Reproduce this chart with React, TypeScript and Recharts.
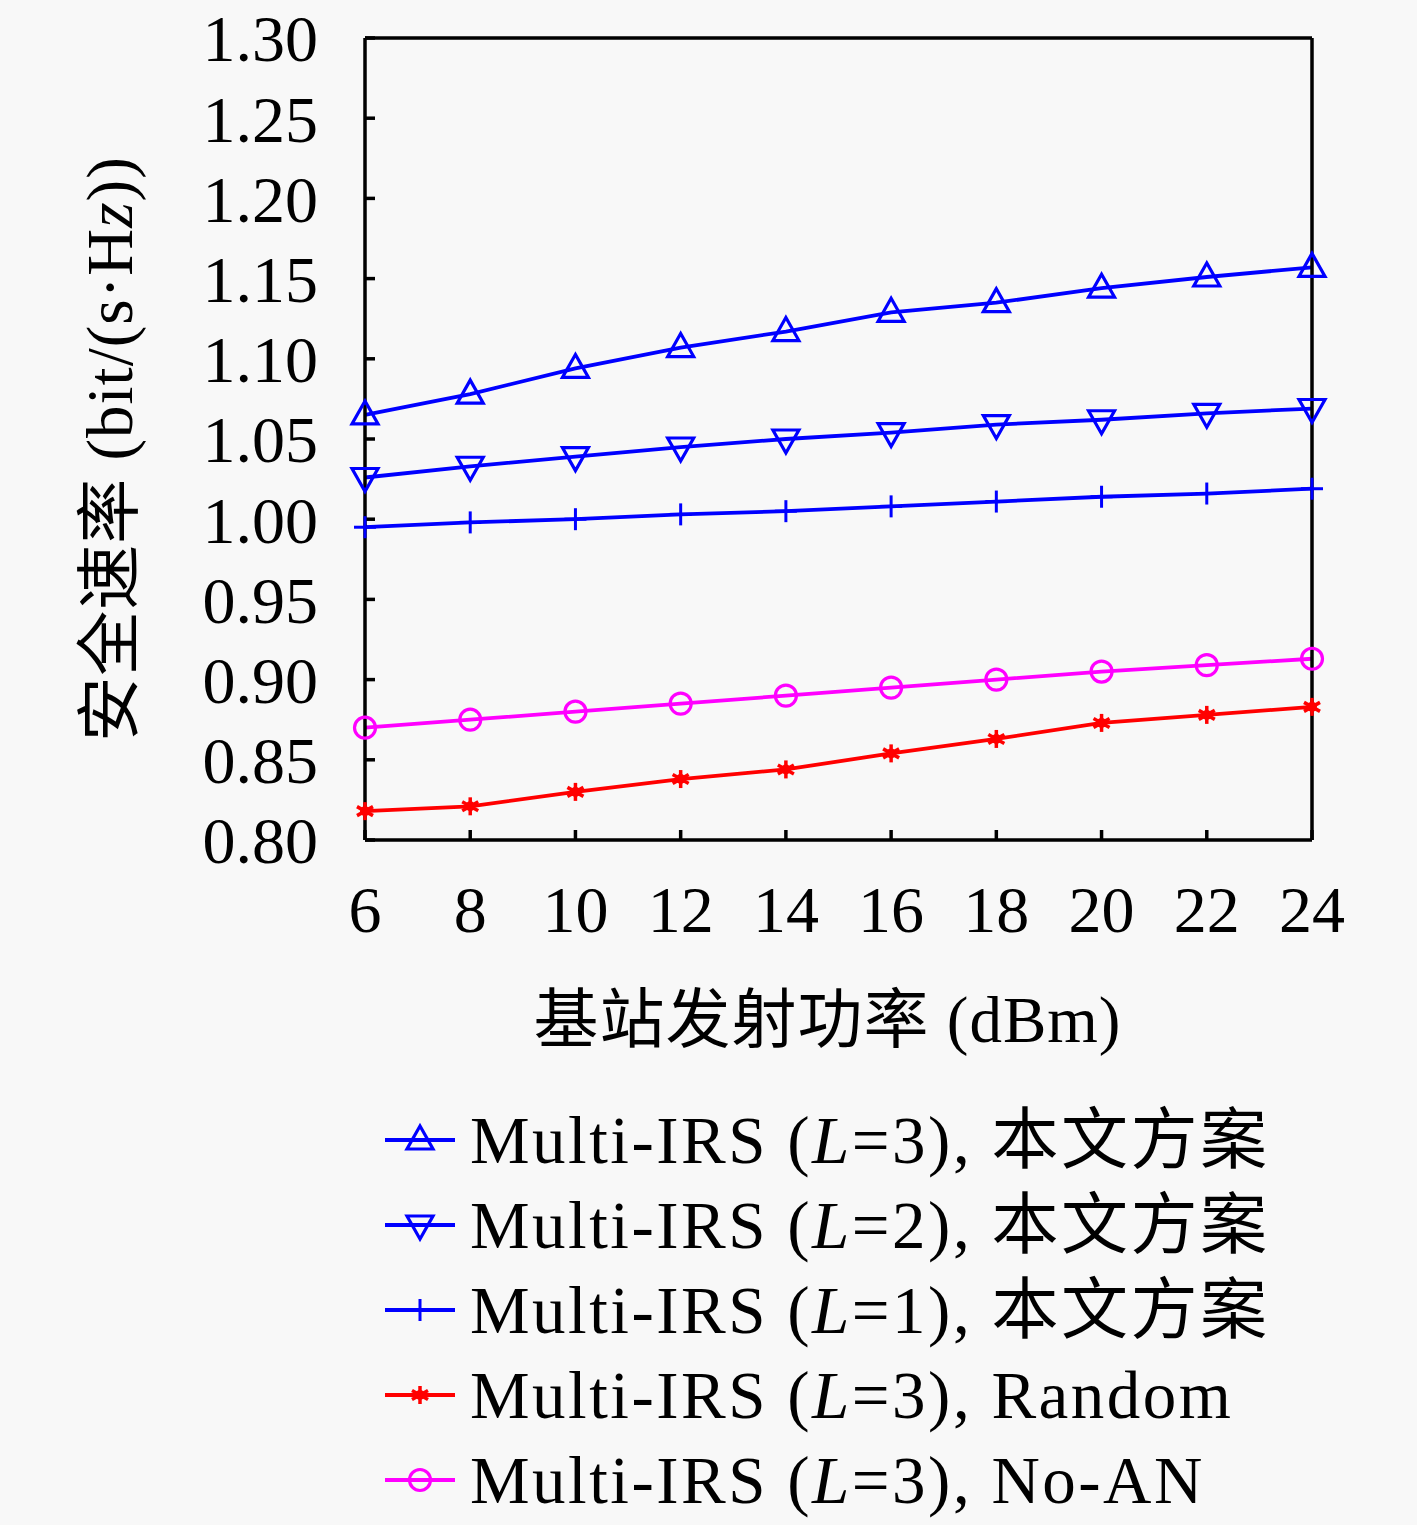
import React from "react";
import { LineChart, Line, XAxis, YAxis, Legend } from "recharts";

const powerDbm = [6, 8, 10, 12, 14, 16, 18, 20, 22, 24];
const l3Proposed = [1.065, 1.078, 1.094, 1.107, 1.117, 1.129, 1.135, 1.144, 1.151, 1.157];
const l2Proposed = [1.026, 1.033, 1.039, 1.045, 1.05, 1.054, 1.059, 1.062, 1.066, 1.069];
const l1Proposed = [0.995, 0.998, 1.0, 1.003, 1.005, 1.008, 1.011, 1.014, 1.016, 1.019];
const l3Random = [0.818, 0.821, 0.83, 0.838, 0.844, 0.854, 0.863, 0.873, 0.878, 0.883];
const l3NoAN = [0.87, 0.875, 0.88, 0.885, 0.89, 0.895, 0.9, 0.905, 0.909, 0.913];

const xTicks = [6, 8, 10, 12, 14, 16, 18, 20, 22, 24];
const yTicks = [0.8, 0.85, 0.9, 0.95, 1.0, 1.05, 1.1, 1.15, 1.2, 1.25, 1.3];

const data = powerDbm.map((p, i) => ({
  p,
  a: l3Proposed[i],
  b: l2Proposed[i],
  c: l1Proposed[i],
  d: l3Random[i],
  e: l3NoAN[i],
}));

const FONT = "'Liberation Serif', 'DejaVu Serif', 'Noto Sans CJK SC', serif";
const BLUE = "#0000ff";
const RED = "#ff0000";
const MAGENTA = "#ff00ff";

type MK = "up" | "down" | "plus" | "star" | "circle";

function markerShape(kind: MK, cx: number, cy: number, color: string) {
  switch (kind) {
    case "up":
      return (
        <polygon
          points={`${cx},${cy - 14} ${cx - 13},${cy + 9} ${cx + 13},${cy + 9}`}
          fill="none"
          stroke={color}
          strokeWidth={3.2}
        />
      );
    case "down":
      return (
        <polygon
          points={`${cx},${cy + 14} ${cx - 13},${cy - 9} ${cx + 13},${cy - 9}`}
          fill="none"
          stroke={color}
          strokeWidth={3.2}
        />
      );
    case "plus":
      return (
        <g stroke={color} strokeWidth={3}>
          <line x1={cx} y1={cy - 11} x2={cx} y2={cy + 11} />
          <line x1={cx - 11} y1={cy} x2={cx + 11} y2={cy} />
        </g>
      );
    case "star":
      return (
        <g stroke={color} strokeWidth={3.5}>
          <line x1={cx} y1={cy - 9} x2={cx} y2={cy + 9} />
          <line x1={cx - 8} y1={cy - 4.5} x2={cx + 8} y2={cy + 4.5} />
          <line x1={cx - 8} y1={cy + 4.5} x2={cx + 8} y2={cy - 4.5} />
          <circle cx={cx} cy={cy} r={5} fill={color} stroke="none" />
        </g>
      );
    case "circle":
      return <circle cx={cx} cy={cy} r={10.5} fill="none" stroke={color} strokeWidth={3.2} />;
  }
}

const makeDot = (kind: MK, color: string) => (props: any) => {
  const { cx, cy, index } = props;
  return <g key={`${kind}-${index}`}>{markerShape(kind, cx, cy, color)}</g>;
};

const series: { key: string; kind: MK; color: string; label: React.ReactNode }[] = [
  { key: "a", kind: "up", color: BLUE, label: <>Multi-IRS (<tspan fontStyle="italic">L</tspan>=3), 本文方案</> },
  { key: "b", kind: "down", color: BLUE, label: <>Multi-IRS (<tspan fontStyle="italic">L</tspan>=2), 本文方案</> },
  { key: "c", kind: "plus", color: BLUE, label: <>Multi-IRS (<tspan fontStyle="italic">L</tspan>=1), 本文方案</> },
  { key: "d", kind: "star", color: RED, label: <>Multi-IRS (<tspan fontStyle="italic">L</tspan>=3), Random</> },
  { key: "e", kind: "circle", color: MAGENTA, label: <>Multi-IRS (<tspan fontStyle="italic">L</tspan>=3), No-AN</> },
];

const LegendContent = () => (
  <svg width={1040} height={430} style={{ display: "block" }}>
    {series.map((s, i) => {
      const cy = 42 + i * 85;
      return (
        <g key={s.key}>
          <line x1={15} y1={cy} x2={85} y2={cy} stroke={s.color} strokeWidth={3.8} />
          {markerShape(s.kind, 50, cy, s.color)}
          <text x={100} y={cy} dy="0.35em" fontFamily={FONT} fontSize={67} fill="#000" letterSpacing={2.5}>
            {s.label}
          </text>
        </g>
      );
    })}
  </svg>
);

const YLabel = (props: any) => {
  const vb = props.viewBox || { x: 205, y: 38, height: 802 };
  const cx = vb.x - 95;
  const cy = vb.y + vb.height / 2 + 10;
  return (
    <text
      x={cx}
      y={cy}
      transform={`rotate(-90 ${cx} ${cy})`}
      textAnchor="middle"
      dominantBaseline="central"
      fontFamily={FONT}
      fontSize={65}
      fill="#000"
      letterSpacing={1}
    >
      安全速率 (bit/(s·H<tspan fontStyle="italic">z</tspan>))
    </text>
  );
};

const XLabel = (props: any) => {
  const vb = props.viewBox || { x: 365, y: 840, width: 947 };
  const cx = vb.x + vb.width / 2 - 11;
  return (
    <text
      x={cx}
      y={1020}
      textAnchor="middle"
      dominantBaseline="central"
      fontFamily={FONT}
      fontSize={65}
      fill="#000"
      letterSpacing={1}
    >
      基站发射功率 (dBm)
    </text>
  );
};

const tickStyle = { fontFamily: FONT, fontSize: 66, fill: "#000" };

export default function App() {
  return (
    <div
      style={{
        position: "absolute",
        left: 0,
        top: 0,
        width: 1417,
        height: 1525,
        background: "#f8f8f8",
      }}
    >
      <LineChart
        width={1417}
        height={1525}
        data={data}
        margin={{ top: 37, right: 104, left: 205, bottom: 485 }}
      >
        <XAxis
          xAxisId="bottom"
          dataKey="p"
          type="number"
          domain={[6, 24]}
          ticks={xTicks}
          interval={0}
          stroke="#000"
          strokeWidth={3.5}
          tickSize={-10}
          tickMargin={55}
          tick={tickStyle}
          height={200}
          tickLine={{ stroke: "#000", strokeWidth: 3.5 }}
          label={<XLabel />}
        />
        <XAxis
          xAxisId="top"
          orientation="top"
          dataKey="p"
          type="number"
          domain={[6, 24]}
          ticks={xTicks}
          interval={0}
          stroke="#000"
          strokeWidth={3.5}
          tickSize={-10}
          tick={false}
          height={1}
          tickLine={{ stroke: "#000", strokeWidth: 3.5 }}
        />
        <YAxis
          yAxisId="left"
          type="number"
          domain={[0.8, 1.3]}
          ticks={yTicks}
          interval={0}
          stroke="#000"
          strokeWidth={3.5}
          tickSize={-10}
          tickMargin={57}
          width={160}
          tick={tickStyle}
          tickFormatter={(v: number) => v.toFixed(2)}
          tickLine={{ stroke: "#000", strokeWidth: 3.5 }}
          label={<YLabel />}
        />
        <YAxis
          yAxisId="right"
          orientation="right"
          type="number"
          domain={[0.8, 1.3]}
          ticks={yTicks}
          interval={0}
          stroke="#000"
          strokeWidth={3.5}
          tickSize={-10}
          width={1}
          tick={false}
          tickLine={{ stroke: "#000", strokeWidth: 3.5 }}
        />
        {series.map((s) => (
          <Line
            key={s.key}
            xAxisId="bottom"
            yAxisId="left"
            dataKey={s.key}
            stroke={s.color}
            strokeWidth={3.8}
            dot={makeDot(s.kind, s.color)}
            activeDot={false}
            isAnimationActive={false}
          />
        ))}
        <Legend
          layout="vertical"
          align="center"
          verticalAlign="middle"
          content={<LegendContent />}
          wrapperStyle={{ top: 1098, left: 370, width: 1040, height: 430 }}
        />
      </LineChart>
    </div>
  );
}
